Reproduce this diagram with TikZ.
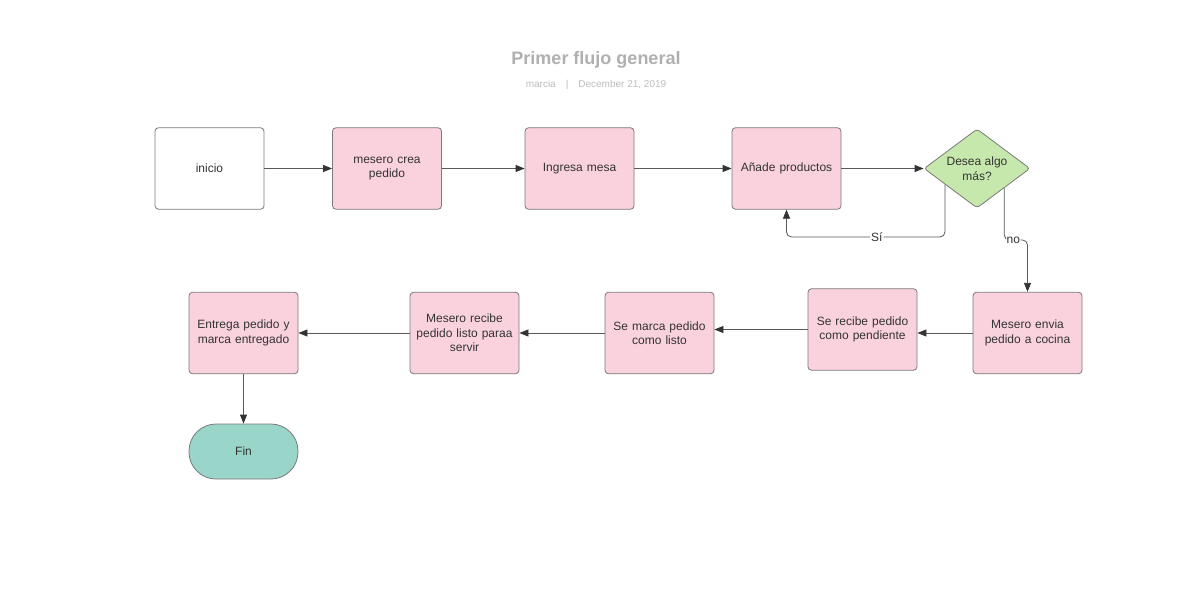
\documentclass[tikz,border=0pt]{standalone}
\usepackage{fontspec}
\setmainfont{Liberation Sans}
\usetikzlibrary{shapes.geometric,arrows.meta,calc}
\definecolor{pinkfill}{HTML}{F9D2DE}
\definecolor{greenfill}{HTML}{C7E8AC}
\definecolor{tealfill}{HTML}{9AD5CA}
\definecolor{boxline}{HTML}{7A7A7A}
\definecolor{txt}{HTML}{333333}
\definecolor{edge}{HTML}{5A5A5A}
\definecolor{tipcol}{HTML}{333333}
\definecolor{titlegrey}{HTML}{B0B0B0}
\definecolor{subgrey}{HTML}{BDBDBD}
\tikzset{
  proc/.style={draw=boxline, line width=0.8pt, rounded corners=3.5pt, minimum width=109pt, minimum height=81.5pt, inner sep=0pt, align=center, text width=100pt, text=txt, font=\fontsize{12}{14.5}\selectfont},
  pinkbox/.style={proc, fill=pinkfill},
  decision/.style={diamond, draw=boxline, fill=greenfill, line width=0.8pt, rounded corners=3pt, minimum width=106pt, minimum height=79pt, inner sep=0pt, aspect=1.34, align=center, text=txt, font=\fontsize{12}{14.5}\selectfont},
  term/.style={draw=boxline, fill=tealfill, line width=0.8pt, rounded corners=27pt, minimum width=109pt, minimum height=55pt, inner sep=0pt, text=txt, font=\fontsize{12}{14.5}\selectfont},
  conn/.style={draw=edge, line width=0.8pt, -{Triangle[length=9pt,width=7pt,color=tipcol]}, rounded corners=5pt},
  lbl/.style={fill=white, inner sep=1pt, text=txt, font=\fontsize{12}{14}\selectfont}
}
\begin{document}
\begin{tikzpicture}[x=1pt,y=-1pt]
\useasboundingbox (0,0) rectangle (1193,615);
\fill[white] (0,0) rectangle (1193,615);
\node[font=\fontsize{18}{22}\selectfont\bfseries, text=titlegrey] (title) at (596,60) {Primer flujo general};
\node[font=\fontsize{10}{12}\selectfont, text=subgrey] (sub) at (596,85) {marcia\quad|\quad December 21, 2019};

\node[proc, fill=white] (inicio) at (209.5,168.5) {inicio};
\node[pinkbox] (crea) at (387,168.5) {mesero crea\\pedido};
\node[pinkbox] (mesa) at (579.5,168.5) {Ingresa mesa};
\node[pinkbox] (anade) at (786.5,168.5) {Añade productos};
\node[decision] (desea) at (977,168.5) {Desea algo\\más?};

\node[pinkbox] (envia) at (1027.5,333) {Mesero envia\\pedido a cocina};
\node[pinkbox] (recibe) at (862.5,329.5) {Se recibe pedido\\como pendiente};
\node[pinkbox] (marca) at (659.5,333) {Se marca pedido\\como listo};
\node[pinkbox] (listo) at (464.5,333) {Mesero recibe\\pedido listo paraa\\servir};
\node[pinkbox] (entrega) at (243.5,333) {Entrega pedido y\\marca entregado};
\node[term] (fin) at (243.5,451.5) {Fin};

\draw[conn] (inicio.east) -- (crea.west);
\draw[conn] (crea.east) -- (mesa.west);
\draw[conn] (mesa.east) -- (anade.west);
\draw[conn] (anade.east) -- (desea.west);

\coordinate (siS) at ($(desea.west)!0.4!(desea.south)$);
\coordinate (noS) at ($(desea.south)!0.51!(desea.east)$);
\draw[conn] (siS) -- (siS |- 0,237) -- (anade.south |- 0,237) node[lbl, pos=0.43] (si) {Sí} -- (anade.south);
\draw[conn] (noS) -- (noS |- 0,240) node[lbl, pos=1, anchor=west, xshift=1pt] (no) {no} -- (envia.north |- 0,240) -- (envia.north);

\draw[conn] (envia.west) -- (envia.west -| recibe.east);
\draw[conn] (recibe.west) -- (recibe.west -| marca.east);
\draw[conn] (marca.west) -- (listo.east);
\draw[conn] (listo.west) -- (entrega.east);
\draw[conn] (entrega.south) -- (fin.north);
\end{tikzpicture}
\end{document}
